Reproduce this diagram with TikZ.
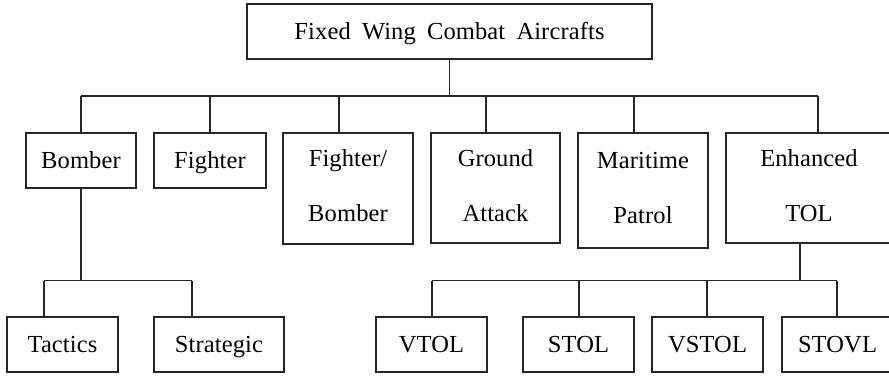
\documentclass[tikz,border=0pt]{standalone}
\usepackage{fontspec}
\setmainfont{Liberation Serif}[LetterSpace=0.5,WordSpace=1.8]
\begin{document}
\begin{tikzpicture}[x=1pt,y=-1pt,
  box/.style={draw=black!85, line width=1.1pt, inner sep=0pt, text=black,
    font=\fontsize{24.5}{55}\selectfont, align=center},
  two/.style={box, text depth=6pt},
  one/.style={box, text height=16.5pt, text depth=1pt},
  conn/.style={draw=black!85, line width=1.1pt}]
\useasboundingbox (0,0) rectangle (889,375);
% nodes
\node[one,minimum width=405pt,minimum height=55pt] (top) at (449.5,31.5) {Fixed Wing Combat Aircrafts};
\node[one,minimum width=110pt,minimum height=55pt] (bomber) at (81,160.5) {Bomber};
\node[one,minimum width=112pt,minimum height=55pt] (fighter) at (210,160.5) {Fighter};
\node[two,minimum width=130pt,minimum height=111pt] (fb) at (348,188.5) {Fighter/\\Bomber};
\node[two,minimum width=129pt,minimum height=110pt] (ga) at (495.5,188) {Ground\\Attack};
\node[two,minimum width=130pt,minimum height=115pt] (mp) at (643,190.5) {Maritime\\Patrol};
\node[two,minimum width=166pt,minimum height=110pt] (et) at (809,188) {Enhanced\\TOL};
\node[one,minimum width=111pt,minimum height=55pt] (tactics) at (62.5,344.5) {Tactics};
\node[one,minimum width=130pt,minimum height=55pt] (strategic) at (219,344.5) {Strategic};
\node[one,minimum width=111pt,minimum height=55pt] (vtol) at (431.5,344.5) {VTOL};
\node[one,minimum width=111pt,minimum height=55pt] (stol) at (578.5,344.5) {STOL};
\node[one,minimum width=111pt,minimum height=55pt] (vstol) at (707.5,344.5) {VSTOL};
\node[one,minimum width=111pt,minimum height=55pt] (stovl) at (837.5,344.5) {STOVL};
% bus coordinates
\coordinate (b1) at (81,96);
\coordinate (b2) at (818,96);
\coordinate (c1) at (44,280.5);
\coordinate (c2) at (192,280.5);
\coordinate (d1) at (432,280.5);
\coordinate (d2) at (837,280.5);
% top level
\draw[conn] (top.south) -- (top.south |- b1);
\draw[conn] (b1) -- (b2);
\draw[conn] (bomber.north) -- (bomber.north |- b1);
\draw[conn] (fighter.north) -- (fighter.north |- b1);
\draw[conn] ([xshift=-9pt]fb.north) -- ([xshift=-9pt]fb.north |- b1);
\draw[conn] ([xshift=-9.5pt]ga.north) -- ([xshift=-9.5pt]ga.north |- b1);
\draw[conn] ([xshift=-9pt]mp.north) -- ([xshift=-9pt]mp.north |- b1);
\draw[conn] ([xshift=9pt]et.north) -- ([xshift=9pt]et.north |- b1);
% bomber children
\draw[conn] (bomber.south) -- (bomber.south |- c1);
\draw[conn] (c1) -- (c2);
\draw[conn] ([xshift=-18.5pt]tactics.north) -- ([xshift=-18.5pt]tactics.north |- c1);
\draw[conn] ([xshift=-27pt]strategic.north) -- ([xshift=-27pt]strategic.north |- c1);
% enhanced TOL children
\draw[conn] ([xshift=-9pt]et.south) -- ([xshift=-9pt]et.south |- d1);
\draw[conn] (d1) -- (d2);
\draw[conn] ([xshift=0.5pt]vtol.north) -- ([xshift=0.5pt]vtol.north |- d1);
\draw[conn] ([xshift=0.5pt]stol.north) -- ([xshift=0.5pt]stol.north |- d1);
\draw[conn] ([xshift=-0.5pt]vstol.north) -- ([xshift=-0.5pt]vstol.north |- d1);
\draw[conn] ([xshift=-0.5pt]stovl.north) -- ([xshift=-0.5pt]stovl.north |- d1);
\end{tikzpicture}
\end{document}
